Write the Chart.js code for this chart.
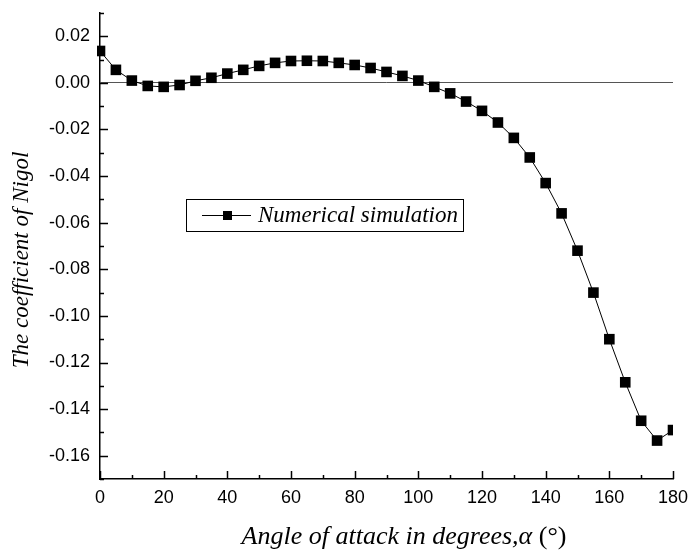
<!DOCTYPE html>
<html>
<head>
<meta charset="utf-8">
<title>Coefficient of Nigol</title>
<script src="https://cdn.jsdelivr.net/npm/chart.js@4"></script>
<style>
  html, body { margin: 0; padding: 0; background: #fff; }
  #wrap { width: 690px; height: 551px; position: relative; }
</style>
</head>
<body>
<div id="wrap"><canvas id="nigolChart" width="690" height="551"></canvas></div>
<script>
// data
var angles = [0, 5, 10, 15, 20, 25, 30, 35, 40, 45, 50, 55, 60, 65, 70, 75, 80, 85, 90,
  95, 100, 105, 110, 115, 120, 125, 130, 135, 140, 145, 150, 155, 160, 165, 170, 175, 180];
var nigol = [0.0137, 0.0056, 0.0010, -0.0013, -0.0017, -0.0009, 0.0009, 0.0022, 0.0040,
  0.0056, 0.0073, 0.0086, 0.0094, 0.0095, 0.0094, 0.0086, 0.0077, 0.0064, 0.0047,
  0.0030, 0.0010, -0.0017, -0.0045, -0.0080, -0.0120, -0.0170, -0.0236, -0.0320,
  -0.0430, -0.0560, -0.0720, -0.0900, -0.1100, -0.1285, -0.1450, -0.1535, -0.1490];
var seriesName = 'Numerical simulation';
var xTitle = 'Angle of attack in degrees,\u03B1 ';
var xTitleUnit = '(\u00B0)';
var yTitle = 'The coefficient of Nigol';

var points = angles.map(function (a, i) { return { x: a, y: nigol[i] } });

var serif = "'Liberation Serif', 'Times New Roman', serif";
var sans = "'Liberation Sans', Arial, sans-serif";

// ticks pointing inward, long on labelled values, short otherwise
var innerTicks = {
  id: 'innerTicks',
  afterDraw: function (chart) {
    var ctx = chart.ctx, area = chart.chartArea;
    ctx.save();
    ctx.strokeStyle = '#000';
    ctx.lineWidth = 1.5;
    chart.scales.y.ticks.forEach(function (t) {
      var py = Math.round(chart.scales.y.getPixelForValue(t.value)) + 0.5;
      var len = t.label ? 8 : 4;
      ctx.beginPath();
      ctx.moveTo(area.left, py);
      ctx.lineTo(area.left + len, py);
      ctx.stroke();
    });
    chart.scales.x.ticks.forEach(function (t) {
      var px = Math.round(chart.scales.x.getPixelForValue(t.value)) + 0.5;
      var len = t.label ? 8 : 4;
      ctx.beginPath();
      ctx.moveTo(px, area.bottom);
      ctx.lineTo(px, area.bottom - len);
      ctx.stroke();
    });
    ctx.restore();
  }
};

// axis titles (x title mixes italic and upright text) and the boxed legend
var titlesAndLegend = {
  id: 'titlesAndLegend',
  afterDraw: function (chart) {
    var ctx = chart.ctx;
    ctx.save();
    ctx.fillStyle = '#000';
    ctx.textBaseline = 'middle';

    // y title
    ctx.save();
    ctx.translate(22, 260);
    ctx.rotate(-Math.PI / 2);
    ctx.font = 'italic 23px ' + serif;
    ctx.textAlign = 'center';
    ctx.fillText(yTitle, 0, 0);
    ctx.restore();

    // x title
    ctx.textAlign = 'left';
    ctx.font = 'italic 26px ' + serif;
    var w1 = ctx.measureText(xTitle).width;
    ctx.font = '26px ' + serif;
    var w2 = ctx.measureText(xTitleUnit).width;
    var x0 = 404 - (w1 + w2) / 2;
    ctx.font = 'italic 26px ' + serif;
    ctx.fillText(xTitle, x0, 537);
    ctx.font = '26px ' + serif;
    ctx.fillText(xTitleUnit, x0 + w1, 537);

    // legend box
    ctx.fillStyle = '#fff';
    ctx.fillRect(186, 199, 277, 32);
    ctx.strokeStyle = '#000';
    ctx.lineWidth = 1;
    ctx.strokeRect(186.5, 199.5, 277, 32);
    ctx.beginPath();
    ctx.moveTo(202, 215.5);
    ctx.lineTo(251, 215.5);
    ctx.stroke();
    ctx.fillStyle = '#000';
    ctx.fillRect(223, 211, 9, 9);
    ctx.font = 'italic 23px ' + serif;
    ctx.textAlign = 'left';
    ctx.fillText(seriesName, 258, 216);
    ctx.restore();
  }
};

var nigolChart = new Chart(document.getElementById('nigolChart'), {
  type: 'line',
  data: {
    datasets: [{
      label: seriesName,
      data: points,
      borderColor: '#000',
      borderWidth: 1,
      backgroundColor: '#000',
      pointStyle: 'rect',
      pointRadius: 7.5,
      pointHoverRadius: 7.5,
      pointBorderWidth: 0,
      pointBackgroundColor: '#000',
      tension: 0,
      clip: { left: 3, top: 0, right: 0, bottom: 0 }
    }]
  },
  options: {
    responsive: false,
    animation: false,
    devicePixelRatio: 1,
    layout: { padding: { top: 13, right: 17, left: 0, bottom: 0 } },
    plugins: {
      legend: { display: false },
      tooltip: { enabled: false }
    },
    scales: {
      x: {
        type: 'linear',
        min: 0,
        max: 180,
        afterFit: function (scale) {
          scale.height = 72;
          scale.paddingLeft = 0;
          scale.paddingRight = 0;
        },
        grid: { display: false, drawTicks: false },
        border: { display: true, color: '#000', width: 1.5 },
        ticks: {
          stepSize: 10,
          autoSkip: false,
          maxRotation: 0,
          minRotation: 0,
          padding: 8,
          color: '#000',
          font: { family: sans, size: 18 },
          callback: function (v) { return v % 20 === 0 ? String(v) : '' }
        }
      },
      y: {
        min: -0.17,
        max: 0.03,
        afterFit: function (scale) {
          scale.width = 100;
          scale.paddingTop = 0;
          scale.paddingBottom = 0;
        },
        grid: {
          drawTicks: false,
          lineWidth: 1,
          color: function (c) {
            return (c.tick && Math.abs(c.tick.value) < 1e-9) ? '#555' : 'rgba(0,0,0,0)';
          }
        },
        border: { display: true, color: '#000', width: 1.5 },
        ticks: {
          stepSize: 0.01,
          autoSkip: false,
          padding: 10,
          color: '#000',
          font: { family: sans, size: 18 },
          callback: function (v) {
            var n = Math.round(v * 100);
            return n % 2 === 0 ? (n / 100).toFixed(2) : '';
          }
        }
      }
    }
  },
  plugins: [innerTicks, titlesAndLegend]
});
</script>
</body>
</html>
